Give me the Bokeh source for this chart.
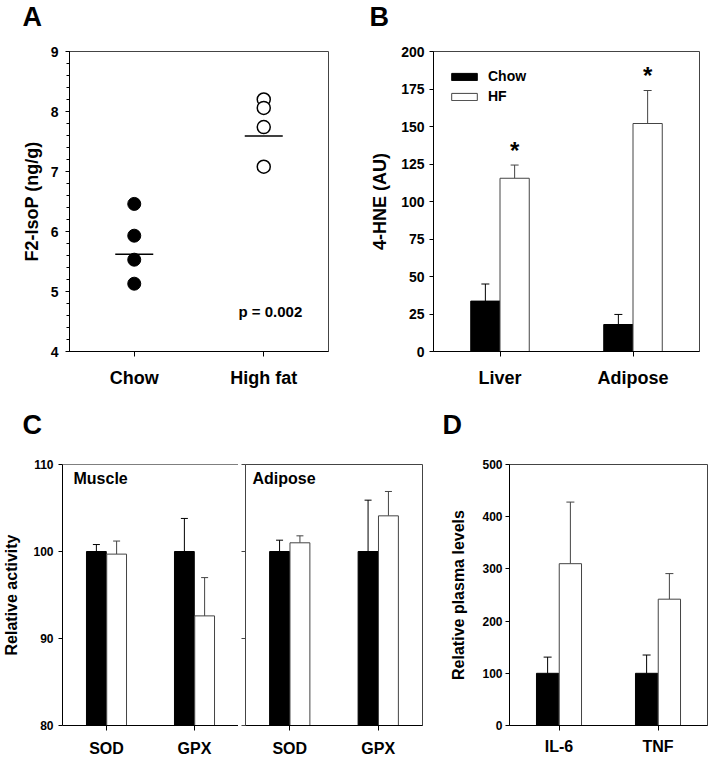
from bokeh.plotting import figure
from bokeh.models import (FactorRange, Range1d, FixedTicker, Label, Legend,
                          LegendItem, ColumnDataSource, Span)
from bokeh.transform import dodge
from bokeh.layouts import row, column
from bokeh.core.properties import value
from bokeh.embed import file_html
from bokeh.resources import INLINE

FONT = "Liberation Sans"

# ---------------- data ----------------
# Panel A: F2-IsoP
groups_a = ["Chow", "High fat"]
chow_isop = [6.46, 5.93, 5.53, 5.13]
hf_isop = [8.20, 8.06, 7.74, 7.08]
mean_isop = [5.62, 7.59]
p_value_text = "p = 0.002"
ticks_a = [4, 5, 6, 7, 8, 9]

# Panel B: 4-HNE
tissues_b = ["Liver", "Adipose"]
hne_chow = [33.6, 18.0]
hne_chow_err = [11.4, 6.7]
hne_hf = [115.5, 152.0]
hne_hf_err = [8.8, 22.0]
hne_sig = ["*", "*"]
ticks_b = [0, 25, 50, 75, 100, 125, 150, 175, 200]

# Panel C: antioxidant enzyme activity
enzymes = ["SOD", "GPX"]
muscle_chow = [100.0, 100.0]
muscle_chow_err = [0.8, 3.8]
muscle_hf = [99.7, 92.6]
muscle_hf_err = [1.5, 4.4]
adipose_chow = [100.0, 100.0]
adipose_chow_err = [1.3, 5.9]
adipose_hf = [101.0, 104.1]
adipose_hf_err = [0.8, 2.8]
ticks_c = [80, 90, 100, 110]

# Panel D: plasma cytokines
cytokines = ["IL-6", "TNF"]
plasma_chow = [100.0, 100.0]
plasma_chow_err = [31.0, 35.0]
plasma_hf = [310.0, 242.0]
plasma_hf_err = [118.0, 49.0]
ticks_d = [0, 100, 200, 300, 400, 500]

panel_letters_top = ["A", "B"]
panel_letters_bottom = ["C", "D"]

GRAY = "#444444"


def make_fig(factors, y0, y1, w, h, bl, br, bt, bb):
    p = figure(x_range=FactorRange(*factors), y_range=Range1d(y0, y1),
               width=w, height=h, min_border_left=bl, min_border_right=br,
               min_border_top=bt, min_border_bottom=bb, title=None,
               output_backend="svg", toolbar_location=None)
    p.xgrid.visible = False
    p.ygrid.visible = False
    p.outline_line_color = GRAY
    p.outline_line_width = 1
    p.background_fill_color = "white"
    p.border_fill_color = "white"
    return p


def letter_strip(letters, xs, h, y):
    s = figure(width=714, height=h, x_range=Range1d(0, 1), y_range=Range1d(0, 1),
               min_border=0, title=None, x_axis_location=None,
               y_axis_location=None, output_backend="svg",
               toolbar_location=None)
    s.outline_line_color = None
    s.xgrid.visible = False
    s.ygrid.visible = False
    for t, x in zip(letters, xs):
        s.add_layout(Label(x=x, y=y, x_units="screen",
                           y_units="screen", text=t, text_font=FONT,
                           text_font_style="bold", text_font_size="27px",
                           text_baseline="alphabetic", text_color="black"))
    return s


def style_axes(p, yticks, tick_px, xlab_px, ylab_px, ylabel, minor=None,
               tick_standoff=5, xlab_standoff=10, ylab_standoff=6):
    xa = p.xaxis[0]
    xa.axis_line_color = "black"
    xa.major_tick_out = 5
    xa.major_tick_in = 0
    xa.major_tick_line_color = "black"
    xa.major_label_text_font = FONT
    xa.major_label_text_font_style = "bold"
    xa.major_label_text_font_size = xlab_px
    xa.major_label_text_color = "black"
    xa.major_label_standoff = xlab_standoff
    ya = p.yaxis[0]
    ya.ticker = FixedTicker(ticks=yticks, minor_ticks=minor or [])
    ya.axis_line_color = "black"
    ya.major_tick_out = 4
    ya.major_tick_in = 0
    ya.minor_tick_out = 3
    ya.minor_tick_in = 0
    ya.major_label_text_font = FONT
    ya.major_label_text_font_style = "bold"
    ya.major_label_text_font_size = tick_px
    ya.major_label_text_color = "black"
    ya.major_label_standoff = tick_standoff
    if ylabel:
        ya.axis_label = ylabel
        ya.axis_label_text_font = FONT
        ya.axis_label_text_font_style = "bold"
        ya.axis_label_text_font_size = ylab_px
        ya.axis_label_text_color = "black"
        ya.axis_label_standoff = ylab_standoff


def note(p, txt, x, y, size):
    p.add_layout(Label(x=x, y=y, x_units="screen", y_units="screen", text=txt,
                       text_font=FONT, text_font_style="bold",
                       text_font_size=size, text_baseline="alphabetic",
                       text_color="black"))


def bars(p, cats, chow, chow_err, hf, hf_err, off, w, bottom, cap):
    src = ColumnDataSource(dict(
        cat=cats, chow=chow, hf=hf,
        chow_up=[m + e for m, e in zip(chow, chow_err)],
        hf_up=[m + e for m, e in zip(hf, hf_err)]))
    xc = dodge("cat", -off, range=p.x_range)
    xh = dodge("cat", off, range=p.x_range)
    p.segment(x0=xc, y0="chow", x1=xc, y1="chow_up", line_color="black",
              line_width=1, source=src)
    p.scatter(x=xc, y="chow_up", marker="dash", size=cap, line_color="black",
              line_width=1, source=src)
    p.segment(x0=xh, y0="hf", x1=xh, y1="hf_up", line_color=GRAY,
              line_width=1, source=src)
    p.scatter(x=xh, y="hf_up", marker="dash", size=cap, line_color=GRAY,
              line_width=1, source=src)
    r1 = p.vbar(x=xc, top="chow", bottom=bottom, width=w, fill_color="black",
                line_color="black", line_width=1, source=src)
    r2 = p.vbar(x=xh, top="hf", bottom=bottom, width=w, fill_color="white",
                line_color=GRAY, line_width=1, source=src)
    return r1, r2, src


# ---------------- letters ----------------
strip_top = letter_strip(panel_letters_top, [22, 369], 40, 24)
strip_bottom = letter_strip(panel_letters_bottom, [22, 442], 55, 21)

# ---------------- Panel A ----------------
pa = make_fig(groups_a, 4, 9, 357, 350, 69, 29, 11, 38)
style_axes(pa, ticks_a, "14px", "18px", "18px", "F2-IsoP (ng/g)",
           minor=[4 + 0.2 * i for i in range(26)], tick_standoff=7,
           xlab_standoff=11, ylab_standoff=6)
pa.scatter(x=["Chow"] * len(chow_isop), y=chow_isop, size=13,
           fill_color="black", line_color="black")
pa.scatter(x=["High fat"] * len(hf_isop), y=hf_isop, size=13,
           fill_color="white", line_color="black", line_width=1.5)
pa.scatter(x=groups_a, y=mean_isop, marker="dash", size=38,
           line_color="black", line_width=1.5)
note(pa, p_value_text, 169, 40, "15px")

# ---------------- Panel B ----------------
pb = make_fig(tissues_b, 0, 200, 357, 350, 76, 15, 11, 38)
style_axes(pb, ticks_b, "14px", "18px", "18px", "4-HNE (AU)",
           tick_standoff=5, xlab_standoff=11, ylab_standoff=8)
rb1, rb2, srcb = bars(pb, tissues_b, hne_chow, hne_chow_err, hne_hf,
                      hne_hf_err, 0.11, 0.22, 0, 8)
srcb.data["sig"] = hne_sig
pb.text(x=dodge("cat", 0.11, range=pb.x_range), y="hf_up", text="sig",
        source=srcb, text_font=value(FONT), text_font_style="bold",
        text_font_size="24px", text_align="center",
        text_baseline="alphabetic", y_offset=-15, text_color="black")
leg = Legend(items=[LegendItem(label="Chow", renderers=[rb1]),
                    LegendItem(label="HF", renderers=[rb2])],
             location="top_left", margin=15, padding=0, spacing=0,
             glyph_width=32, glyph_height=9, label_standoff=8,
             label_height=20, border_line_color=None,
             background_fill_alpha=0, label_text_font=FONT,
             label_text_font_style="bold", label_text_font_size="14px",
             label_text_color="black")
pb.add_layout(leg)

# ---------------- Panel C ----------------
pc1 = make_fig(enzymes, 80, 110, 238, 316, 62, 0, 17, 36)
style_axes(pc1, ticks_c, "12px", "16px", "16px", "Relative activity",
           tick_standoff=5, xlab_standoff=9, ylab_standoff=10)
pc1.outline_line_color = None
pc1.add_layout(Span(location=110, dimension="width", line_color="black",
                    line_width=1))
bars(pc1, enzymes, muscle_chow, muscle_chow_err, muscle_hf, muscle_hf_err,
     0.115, 0.225, 80, 7)
note(pc1, "Muscle", 11, 247, "16px")

pc2 = make_fig(enzymes, 80, 110, 192, 316, 7, 8, 17, 36)
style_axes(pc2, ticks_c, "12px", "16px", "16px", None,
           tick_standoff=0, xlab_standoff=9, ylab_standoff=0)
pc2.yaxis[0].major_label_overrides = {t: "" for t in ticks_c}
pc2.yaxis[0].axis_line_color = GRAY
pc2.yaxis[0].major_tick_line_color = GRAY
bars(pc2, enzymes, adipose_chow, adipose_chow_err, adipose_hf,
     adipose_hf_err, 0.115, 0.225, 80, 7)
note(pc2, "Adipose", 7, 247, "16px")

# ---------------- Panel D ----------------
pd_ = make_fig(cytokines, 0, 500, 284, 316, 79, 7, 19, 34)
style_axes(pd_, ticks_d, "12px", "16px", "16px", "Relative plasma levels",
           tick_standoff=3, xlab_standoff=7, ylab_standoff=12)
bars(pd_, cytokines, plasma_chow, plasma_chow_err, plasma_hf, plasma_hf_err,
     0.115, 0.225, 0, 8)

layout = column(strip_top, row(pa, pb), strip_bottom, row(pc1, pc2, pd_))

with open("out.html", "w") as f:
    f.write(file_html(layout, INLINE))
